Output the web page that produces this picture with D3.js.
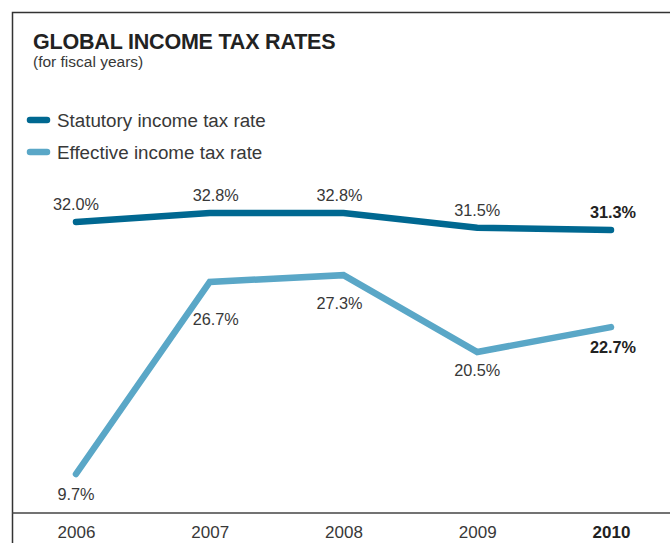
<!DOCTYPE html>
<html>
<head>
<meta charset="utf-8">
<script src="https://cdn.jsdelivr.net/npm/d3@7"></script>
<style>
  body { margin: 0; background: #fff; }
  svg { display: block; }
</style>
</head>
<body>
<svg id="chart"></svg>
<script>
// data
var years = ["2006", "2007", "2008", "2009", "2010"];
var statutory = [32.0, 32.8, 32.8, 31.5, 31.3];
var effective = [9.7, 26.7, 27.3, 20.5, 22.7];
var seriesNames = ["Statutory income tax rate", "Effective income tax rate"];

var W = 670, H = 543;
var darkBlue = "#006891", lightBlue = "#5aa7c7", textCol = "#383838";
var font = "'Liberation Sans', Arial, sans-serif";

var svg = d3.select("#chart").attr("width", W).attr("height", H);

var x = d3.scalePoint().domain(years).range([76, 611]);
var y = d3.scaleLinear().domain([9.7, 32.8]).range([474, 213]);

// frame: left + top border
svg.append("path")
    .attr("d", "M12.5,543V12.5H670")
    .attr("fill", "none")
    .attr("stroke", "#333")
    .attr("stroke-width", 1.5);

// title
svg.append("text")
    .attr("x", 33).attr("y", 49)
    .attr("font-family", font).attr("font-weight", "bold")
    .attr("font-size", "21.5px").attr("fill", "#222")
    .attr("letter-spacing", "-0.2px")
    .text("GLOBAL INCOME TAX RATES");
svg.append("text")
    .attr("x", 33).attr("y", 67)
    .attr("font-family", font).attr("font-size", "15.5px").attr("fill", textCol)
    .text("(for fiscal years)");

// legend
var legend = svg.selectAll("g.legend").data(seriesNames).enter().append("g")
    .attr("transform", function(d, i) { return "translate(0," + (120 + i * 32) + ")"; });
legend.append("line")
    .attr("x1", 30).attr("x2", 47).attr("y1", 0).attr("y2", 0)
    .attr("stroke", function(d, i) { return i == 0 ? darkBlue : lightBlue; })
    .attr("stroke-width", 6.5).attr("stroke-linecap", "round");
legend.append("text")
    .attr("x", 57).attr("y", 7)
    .attr("font-family", font).attr("font-size", "18.8px").attr("fill", textCol)
    .text(function(d) { return d; });

// x axis
var xAxis = svg.append("g")
    .attr("transform", "translate(0,513)")
    .call(d3.axisBottom(x).tickSize(0).tickPadding(0));
xAxis.select(".domain").remove();
xAxis.append("line")
    .attr("x1", 12).attr("x2", W).attr("y1", 0).attr("y2", 0)
    .attr("stroke", "#444").attr("stroke-width", 1.5);
xAxis.selectAll(".tick text")
    .attr("y", 25).attr("dy", 0)
    .attr("font-family", font).attr("font-size", "17px")
    .attr("font-weight", function(d, i) { return i == years.length - 1 ? "bold" : "normal"; })
    .attr("fill", function(d, i) { return i == years.length - 1 ? "#222" : textCol; });

// lines
var line = d3.line()
    .x(function(d, i) { return x(years[i]); })
    .y(function(d) { return y(d); });

svg.append("path").datum(effective)
    .attr("d", line).attr("fill", "none")
    .attr("stroke", lightBlue).attr("stroke-width", 6.5)
    .attr("stroke-linecap", "round").attr("stroke-linejoin", "miter");
svg.append("path").datum(statutory)
    .attr("d", line).attr("fill", "none")
    .attr("stroke", darkBlue).attr("stroke-width", 6.5)
    .attr("stroke-linecap", "round").attr("stroke-linejoin", "miter");

// value labels
var labelShift = [0, 6, -4, 0, 2];   // nudge labels off the line
var effDy = [26, 43, 34, 24, 26];

function addLabels(vals, dyList) {
  svg.selectAll(null).data(vals).enter().append("text")
      .attr("x", function(d, i) { return x(years[i]) + labelShift[i]; })
      .attr("y", function(d, i) { return y(d) + dyList[i]; })
      .attr("text-anchor", "middle")
      .attr("font-family", font).attr("font-size", "16.3px")
      .attr("font-weight", function(d, i) { return i == vals.length - 1 ? "bold" : "normal"; })
      .attr("fill", function(d, i) { return i == vals.length - 1 ? "#222" : textCol; })
      .text(function(d) { return d.toFixed(1) + "%"; });
}
addLabels(statutory, [-12, -12, -12, -12, -12]);
addLabels(effective, effDy);
</script>
</body>
</html>
